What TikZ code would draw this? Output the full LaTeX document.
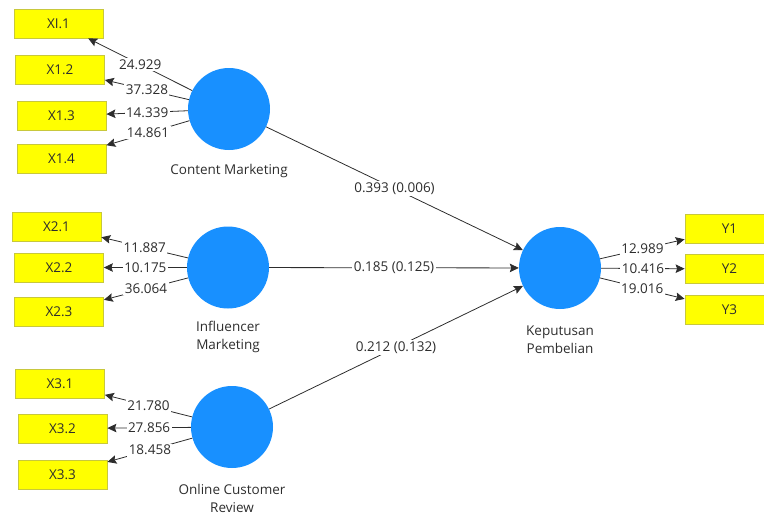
\documentclass[tikz,border=0pt]{standalone}
\usepackage{fontspec}
\setmainfont{Open Sans}
\usetikzlibrary{arrows.meta}
\definecolor{circfill}{RGB}{24,144,255}
\definecolor{boxborder}{RGB}{200,200,60}
\definecolor{boxfill}{RGB}{255,255,0}
\definecolor{txtcol}{RGB}{45,45,45}
\definecolor{linecol}{RGB}{45,45,45}
\tikzset{
  lv/.style={circle, fill=circfill, minimum size=82pt, inner sep=0pt},
  ind/.style={rectangle, draw=boxborder, line width=0.8pt, fill=boxfill, minimum width=89pt, minimum height=29pt, inner sep=0pt, font=\fontsize{13.5}{16}\selectfont, text=txtcol},
  val/.style={fill=white, inner sep=1.5pt, font=\fontsize{13.5}{16}\selectfont, text=txtcol},
  vname/.style={align=center, font=\fontsize{13.5}{18}\selectfont, text=txtcol},
  arr/.style={draw=linecol, line width=0.8pt, -{Stealth[length=9pt,width=8.5pt,inset=1.5pt]}}
}
\begin{document}
\begin{tikzpicture}[x=1pt,y=-1pt]
\useasboundingbox (0,0) rectangle (764,515);
% latent variables
\node[lv] (cm) at (229,109) {};
\node[lv] (im) at (228,267.5) {};
\node[lv] (ocr) at (232,427) {};
\node[lv] (kp) at (560,268) {};
% names
\node[vname] (cmn) at (229,171) {Content Marketing};
\node[vname] (imn) at (228,337) {Influencer\\Marketing};
\node[vname] (ocrn) at (232,498.5) {Online Customer\\Review};
\node[vname] (kpn) at (560,339.5) {Keputusan\\Pembelian};
% indicators
\node[ind] (x11) at (58.5,23.5) {XI.1};
\node[ind] (x12) at (60,69.5) {X1.2};
\node[ind] (x13) at (61.5,116) {X1.3};
\node[ind] (x14) at (61.5,158.5) {X1.4};
\node[ind] (x21) at (56.5,226.5) {X2.1};
\node[ind] (x22) at (59,267.5) {X2.2};
\node[ind] (x23) at (59,311.5) {X2.3};
\node[ind] (x31) at (60,383.5) {X3.1};
\node[ind] (x32) at (62.5,428.5) {X3.2};
\node[ind] (x33) at (62.5,474.5) {X3.3};
\node[ind] (y1) at (729.5,229) {Y1};
\node[ind] (y2) at (729.5,269) {Y2};
\node[ind] (y3) at (729.5,310) {Y3};
% loadings
\draw[arr] (cm) -- node[val] {24.929} (x11);
\draw[arr] (cm) -- node[val] {37.328} (x12);
\draw[arr] (cm) -- node[val] {14.339} (x13);
\draw[arr] (cm) -- node[val] {14.861} (x14);
\draw[arr] (im) -- node[val] {11.887} (x21);
\draw[arr] (im) -- node[val] {10.175} (x22);
\draw[arr] (im) -- node[val] {36.064} (x23);
\draw[arr] (ocr) -- node[val] {21.780} (x31);
\draw[arr] (ocr) -- node[val] {27.856} (x32);
\draw[arr] (ocr) -- node[val] {18.458} (x33);
\draw[arr] (kp) -- node[val] {12.989} (y1);
\draw[arr] (kp) -- node[val] {10.416} (y2);
\draw[arr] (kp) -- node[val] {19.016} (y3);
% paths
\draw[arr] (cm) -- node[val] {0.393 (0.006)} (kp);
\draw[arr] (im) -- node[val] {0.185 (0.125)} (kp);
\draw[arr] (ocr) -- node[val] {0.212 (0.132)} (kp);
\end{tikzpicture}
\end{document}
